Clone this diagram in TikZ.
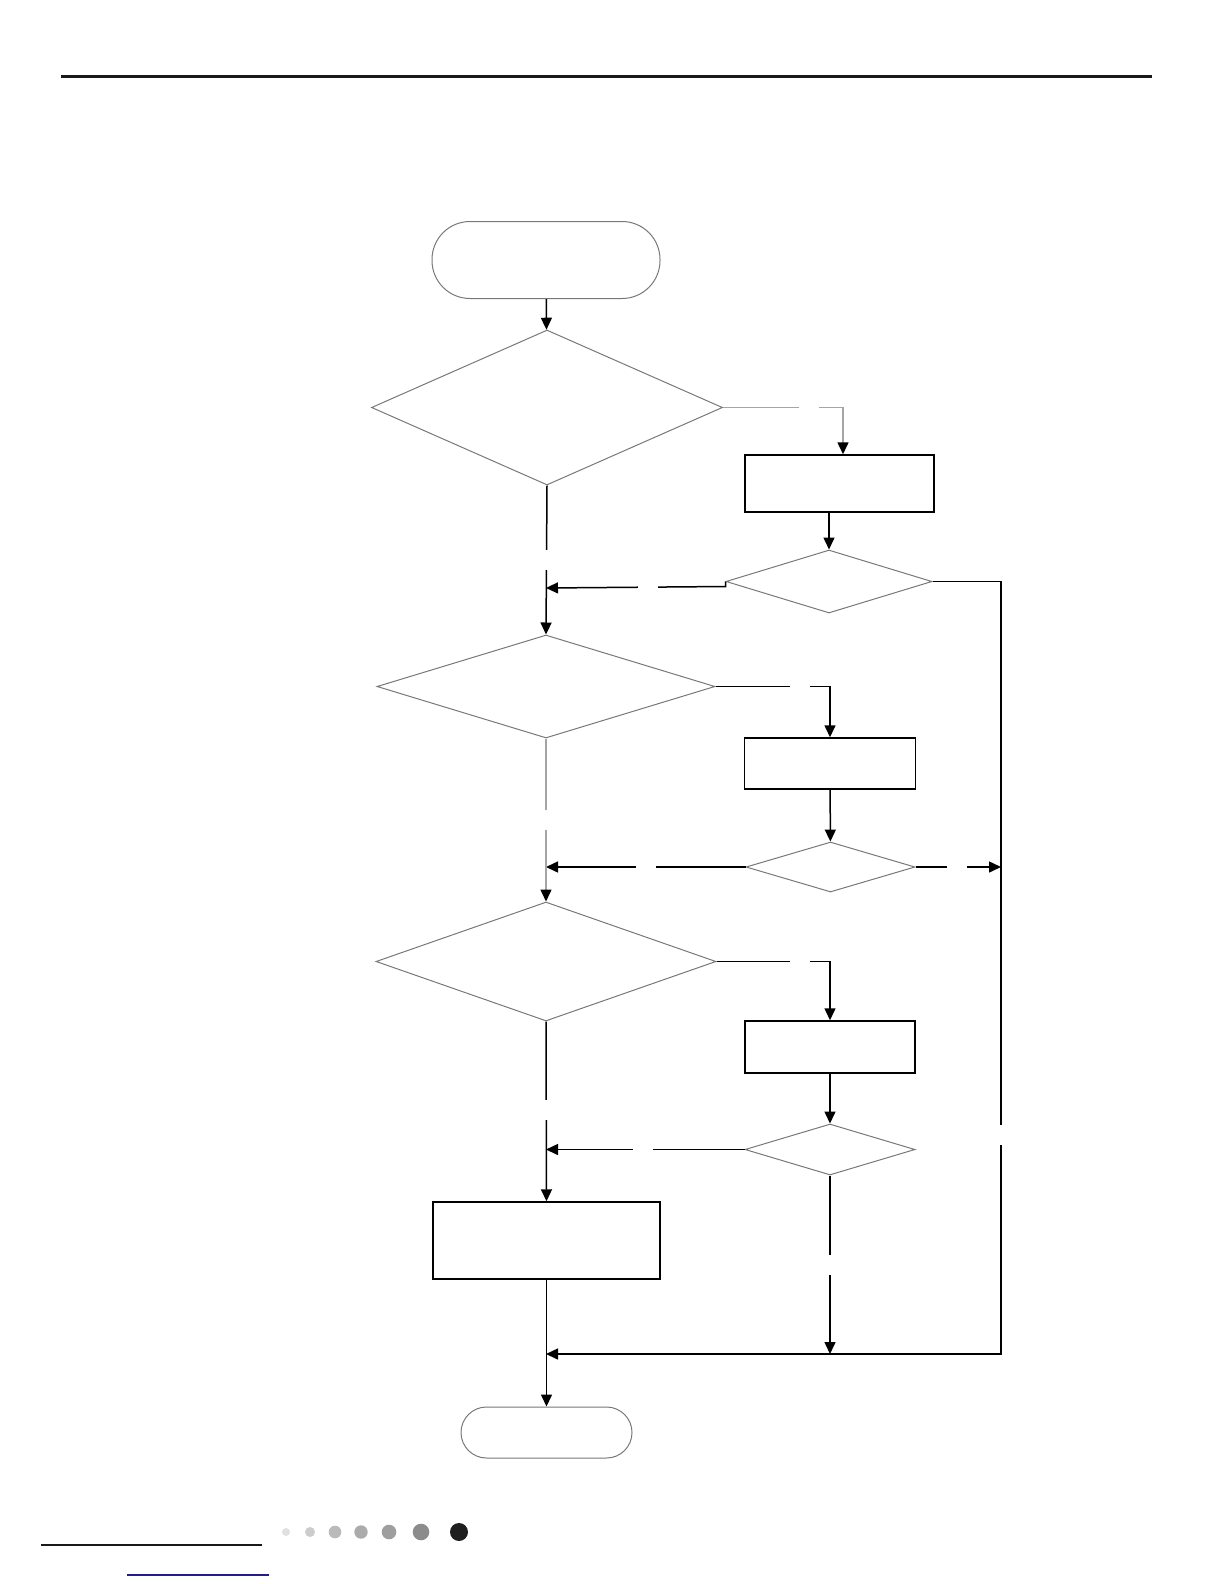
\documentclass[tikz,border=0pt]{standalone}
\usepackage{tikz}
\usetikzlibrary{arrows.meta,positioning,calc,shapes.geometric}
\definecolor{outlinegrey}{RGB}{120,120,120}
\definecolor{wiregrey}{RGB}{165,165,165}
\definecolor{linkblue}{RGB}{30,30,140}

\begin{document}
\begin{tikzpicture}[x=0.5bp,y=-0.5bp,
    term/.style={rectangle,draw=outlinegrey,line width=0.5bp,inner sep=0pt},
    dec/.style={diamond,draw=outlinegrey,line width=0.5bp,inner sep=0pt,aspect=2},
    proc/.style={rectangle,draw=black,line width=0.75bp,inner sep=0pt},
    hgap/.style={fill=white,inner sep=0pt,minimum width=10bp,minimum height=3bp},
    vgap/.style={fill=white,inner sep=0pt,minimum width=3bp,minimum height=10bp},
    a/.style={-{Triangle[length=6bp,width=5.5bp,color=black,fill=black]},line width=0.75bp,black}]
    \useasboundingbox (0,0) rectangle (1224,1584);
    % page rules
    \draw[line width=1.5bp,black!90] (61,76) -- (1152,76);
    \draw[line width=1.2bp,black!90] (41,1545) -- (262,1545);
    \draw[line width=0.6bp,linkblue] (127,1575) -- (269,1575);
    \foreach \px/\pr/\pg in {286/4/12,310/5/20,335/6.3/27,361/6.7/33,389/7.3/38,421/8.3/45,459/9/88}
      \fill[black!\pg] (\px,1532) circle[radius=\pr];
    % shapes
    \node[term,minimum width=114bp,minimum height=38.5bp,rounded corners=19bp] (start) at (546,260) {};
    \node[dec,minimum width=175.5bp,minimum height=77.5bp] (dA) at (547,407.5) {};
    \node[proc,minimum width=94.5bp,minimum height=28.5bp] (pA) at (839.5,483.5) {};
    \node[dec,minimum width=103bp,minimum height=31.5bp] (dB) at (829,581.5) {};
    \node[dec,minimum width=169bp,minimum height=51.5bp] (dC) at (546,686.5) {};
    \node[proc,minimum width=85.5bp,minimum height=25.5bp] (pB) at (830,763.5) {};
    \node[dec,minimum width=84.5bp,minimum height=25bp] (dD) at (830.5,867) {};
    \node[dec,minimum width=170bp,minimum height=59.5bp] (dE) at (546,961.5) {};
    \node[proc,minimum width=85bp,minimum height=26bp] (pC) at (830,1047) {};
    \node[dec,minimum width=85bp,minimum height=25.5bp] (dF) at (830,1149.5) {};
    \node[proc,minimum width=113.5bp,minimum height=38.5bp] (pD) at (546.5,1240.5) {};
    \node[term,minimum width=85.5bp,minimum height=25.5bp,rounded corners=12.75bp] (stop) at (546.5,1432.5) {};
    \coordinate (rail) at (1001,0);
    \coordinate (jA) at (546,588);
    \coordinate (jB) at (546,867);
    \coordinate (jC) at (546,1149.5);
    \coordinate (merge) at (546,1354);
    % connectors
    \draw[a] (start) -- (dA);
    \draw[a,wiregrey] (dA.east) -| node[hgap,pos=0.36]{} ([xshift=1.75bp]pA.north);
    \draw[a] (pA.south -| dB.north) -- (dB.north);
    \draw[a] (dA.south) -- node[vgap,pos=0.5]{} (dC.north);
    \draw[a] (dB.west) -- ++(0,5) -- node[hgap,pos=0.43]{} (jA);
    \draw[a] (dB.east) -- (dB.east -| rail) -- node[vgap,pos=0.717]{} (merge -| rail) -- (merge);
    \draw[a] (dC.east) -| node[hgap,pos=0.37]{} (pB.north);
    \draw[a] (pB) -- (dD);
    \draw[a] (dD.west) -- node[hgap,pos=0.5]{} (jB);
    \draw[a] (dD.east) -- node[hgap,pos=0.49]{} (dD.east -| rail);
    \draw[a,wiregrey] (dC.south) -- node[vgap,pos=0.5]{} (dE.north);
    \draw[a] (dE.east) -| node[hgap,pos=0.37]{} (pC.north);
    \draw[a] (pC) -- (dF);
    \draw[a] (dF.west) -- node[hgap,pos=0.51]{} (jC);
    \draw[a] (dE.south) -- node[vgap,pos=0.49]{} (pD.north);
    \draw[a] (pD) -- (stop);
    \draw[a] (dF.south) -- node[vgap,pos=0.5]{} (dF.south |- merge);
\end{tikzpicture}
\end{document}
